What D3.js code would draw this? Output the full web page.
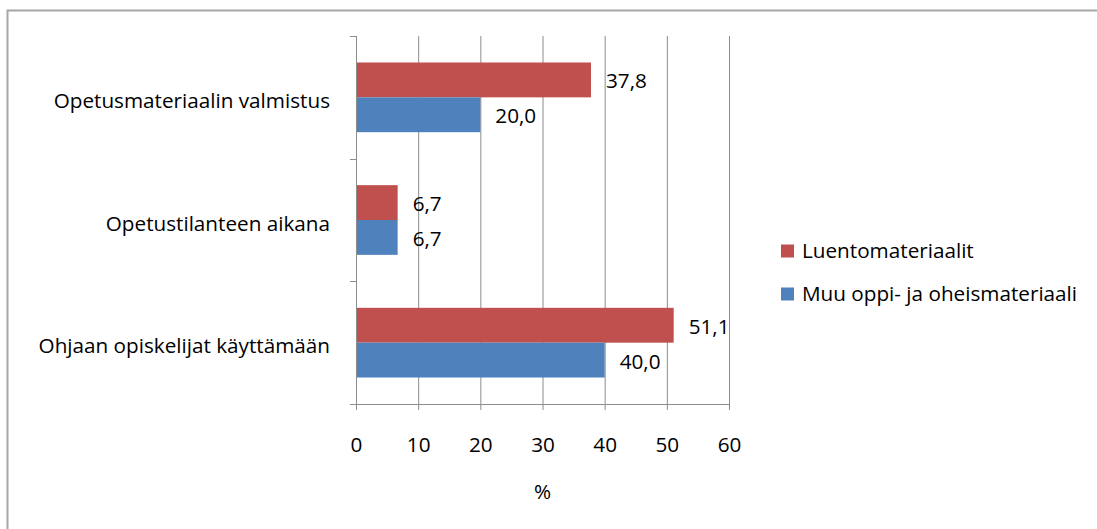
<!DOCTYPE html>
<html>
<head>
<meta charset="utf-8">
<script src="https://cdn.jsdelivr.net/npm/d3@7"></script>
<style>
  body { margin: 0; background: #fff; }
  svg text { font-family: "Open Sans", Lato, sans-serif; fill: #000; }
</style>
</head>
<body>
<div id="chart"></div>
<script>
// data
var categories = ["Opetusmateriaalin valmistus", "Opetustilanteen aikana", "Ohjaan opiskelijat käyttämään"];
var seriesNames = ["Luentomateriaalit", "Muu oppi- ja oheismateriaali"];
var luento = [37.8, 6.7, 51.1];
var muu = [20.0, 6.7, 40.0];
var xTicks = [0, 10, 20, 30, 40, 50, 60];
var xTitle = "%";

var colors = ["#C0504D", "#4F81BD"];
var width = 1097, height = 529;
var fontSize = 20.7;

var svg = d3.select("#chart").append("svg")
    .attr("width", width)
    .attr("height", height);

// outer frame (cut off at right and bottom like the original)
svg.append("rect")
    .attr("x", 7.5).attr("y", 10.5)
    .attr("width", 1200).attr("height", 700)
    .attr("fill", "none")
    .attr("stroke", "#a6a6a6")
    .attr("stroke-width", 2);

var plot = { left: 356, right: 729, top: 36, bottom: 404 };

var x = d3.scaleLinear()
    .domain([0, 60])
    .range([plot.left, plot.right]);

var y = d3.scaleBand()
    .domain(categories)
    .range([plot.top, plot.bottom])
    .paddingInner(0).paddingOuter(0);

var ySub = d3.scaleBand()
    .domain([0, 1])
    .range([0, y.bandwidth()])
    .paddingInner(0).paddingOuter(0.76);

var rows = categories.map(function(c, i) {
    return { cat: c, vals: [luento[i], muu[i]] };
});

// vertical gridlines
svg.append("g")
    .selectAll("line")
    .data(xTicks.filter(function(d) { return d > 0; }))
    .enter().append("line")
    .attr("x1", function(d) { return x(d) + 0.5; })
    .attr("x2", function(d) { return x(d) + 0.5; })
    .attr("y1", plot.top)
    .attr("y2", plot.bottom)
    .attr("stroke", "#8c8c8c")
    .attr("stroke-width", 1);

// bars
var groups = svg.append("g")
    .selectAll("g")
    .data(rows)
    .enter().append("g")
    .attr("transform", function(d) { return "translate(0," + y(d.cat) + ")"; });

groups.selectAll("rect")
    .data(function(d) { return d.vals.map(function(v, i) { return { v: v, i: i }; }); })
    .enter().append("rect")
    .attr("x", x(0))
    .attr("y", function(d) { return ySub(d.i); })
    .attr("width", function(d) { return x(d.v) - x(0); })
    .attr("height", ySub.bandwidth())
    .attr("fill", function(d) { return colors[d.i]; });

groups.selectAll("text")
    .data(function(d) { return d.vals.map(function(v, i) { return { v: v, i: i }; }); })
    .enter().append("text")
    .attr("x", function(d) { return x(d.v) + 15; })
    .attr("y", function(d) { return ySub(d.i) + ySub.bandwidth() / 2 + 3; })
    .attr("dominant-baseline", "middle")
    .attr("font-size", fontSize)
    .text(function(d) { return d.v.toFixed(1).replace(".", ","); });

// x axis
var xAxis = svg.append("g")
    .attr("transform", "translate(0," + plot.bottom + ")")
    .call(d3.axisBottom(x).tickValues(xTicks).tickSize(6).tickSizeOuter(0).tickPadding(27));
xAxis.selectAll("line, path").attr("stroke", "#8c8c8c");
xAxis.selectAll("text").attr("font-size", fontSize).attr("font-family", "'Open Sans', sans-serif");

// y axis: ticks on category boundaries
var yBounds = categories.map(function(c) { return y(c); }).concat([plot.bottom]);
svg.append("line")
    .attr("x1", x(0) + 0.5).attr("x2", x(0) + 0.5)
    .attr("y1", plot.top).attr("y2", plot.bottom)
    .attr("stroke", "#8c8c8c");
svg.append("g")
    .selectAll("line")
    .data(yBounds)
    .enter().append("line")
    .attr("x1", x(0) - 6).attr("x2", x(0))
    .attr("y1", function(d) { return Math.round(d) + 0.5; })
    .attr("y2", function(d) { return Math.round(d) + 0.5; })
    .attr("stroke", "#8c8c8c");

svg.append("g")
    .selectAll("text")
    .data(categories)
    .enter().append("text")
    .attr("x", 330)
    .attr("y", function(d) { return y(d) + y.bandwidth() / 2 + 5; })
    .attr("text-anchor", "end")
    .attr("dominant-baseline", "middle")
    .attr("font-size", fontSize)
    .text(function(d) { return d; });

// axis title
svg.append("text")
    .attr("x", (plot.left + plot.right) / 2)
    .attr("y", 493)
    .attr("text-anchor", "middle")
    .attr("dominant-baseline", "middle")
    .attr("font-size", fontSize)
    .text(xTitle);

// legend
var legend = svg.append("g")
    .selectAll("g")
    .data(seriesNames)
    .enter().append("g")
    .attr("transform", function(d, i) { return "translate(781," + (251 + i * 43) + ")"; });
legend.append("rect")
    .attr("x", 0).attr("y", -6.5)
    .attr("width", 13).attr("height", 13)
    .attr("fill", function(d, i) { return colors[i]; });
legend.append("text")
    .attr("x", 21).attr("y", 1)
    .attr("dominant-baseline", "middle")
    .attr("font-size", fontSize)
    .text(function(d) { return d; });
</script>
</body>
</html>
